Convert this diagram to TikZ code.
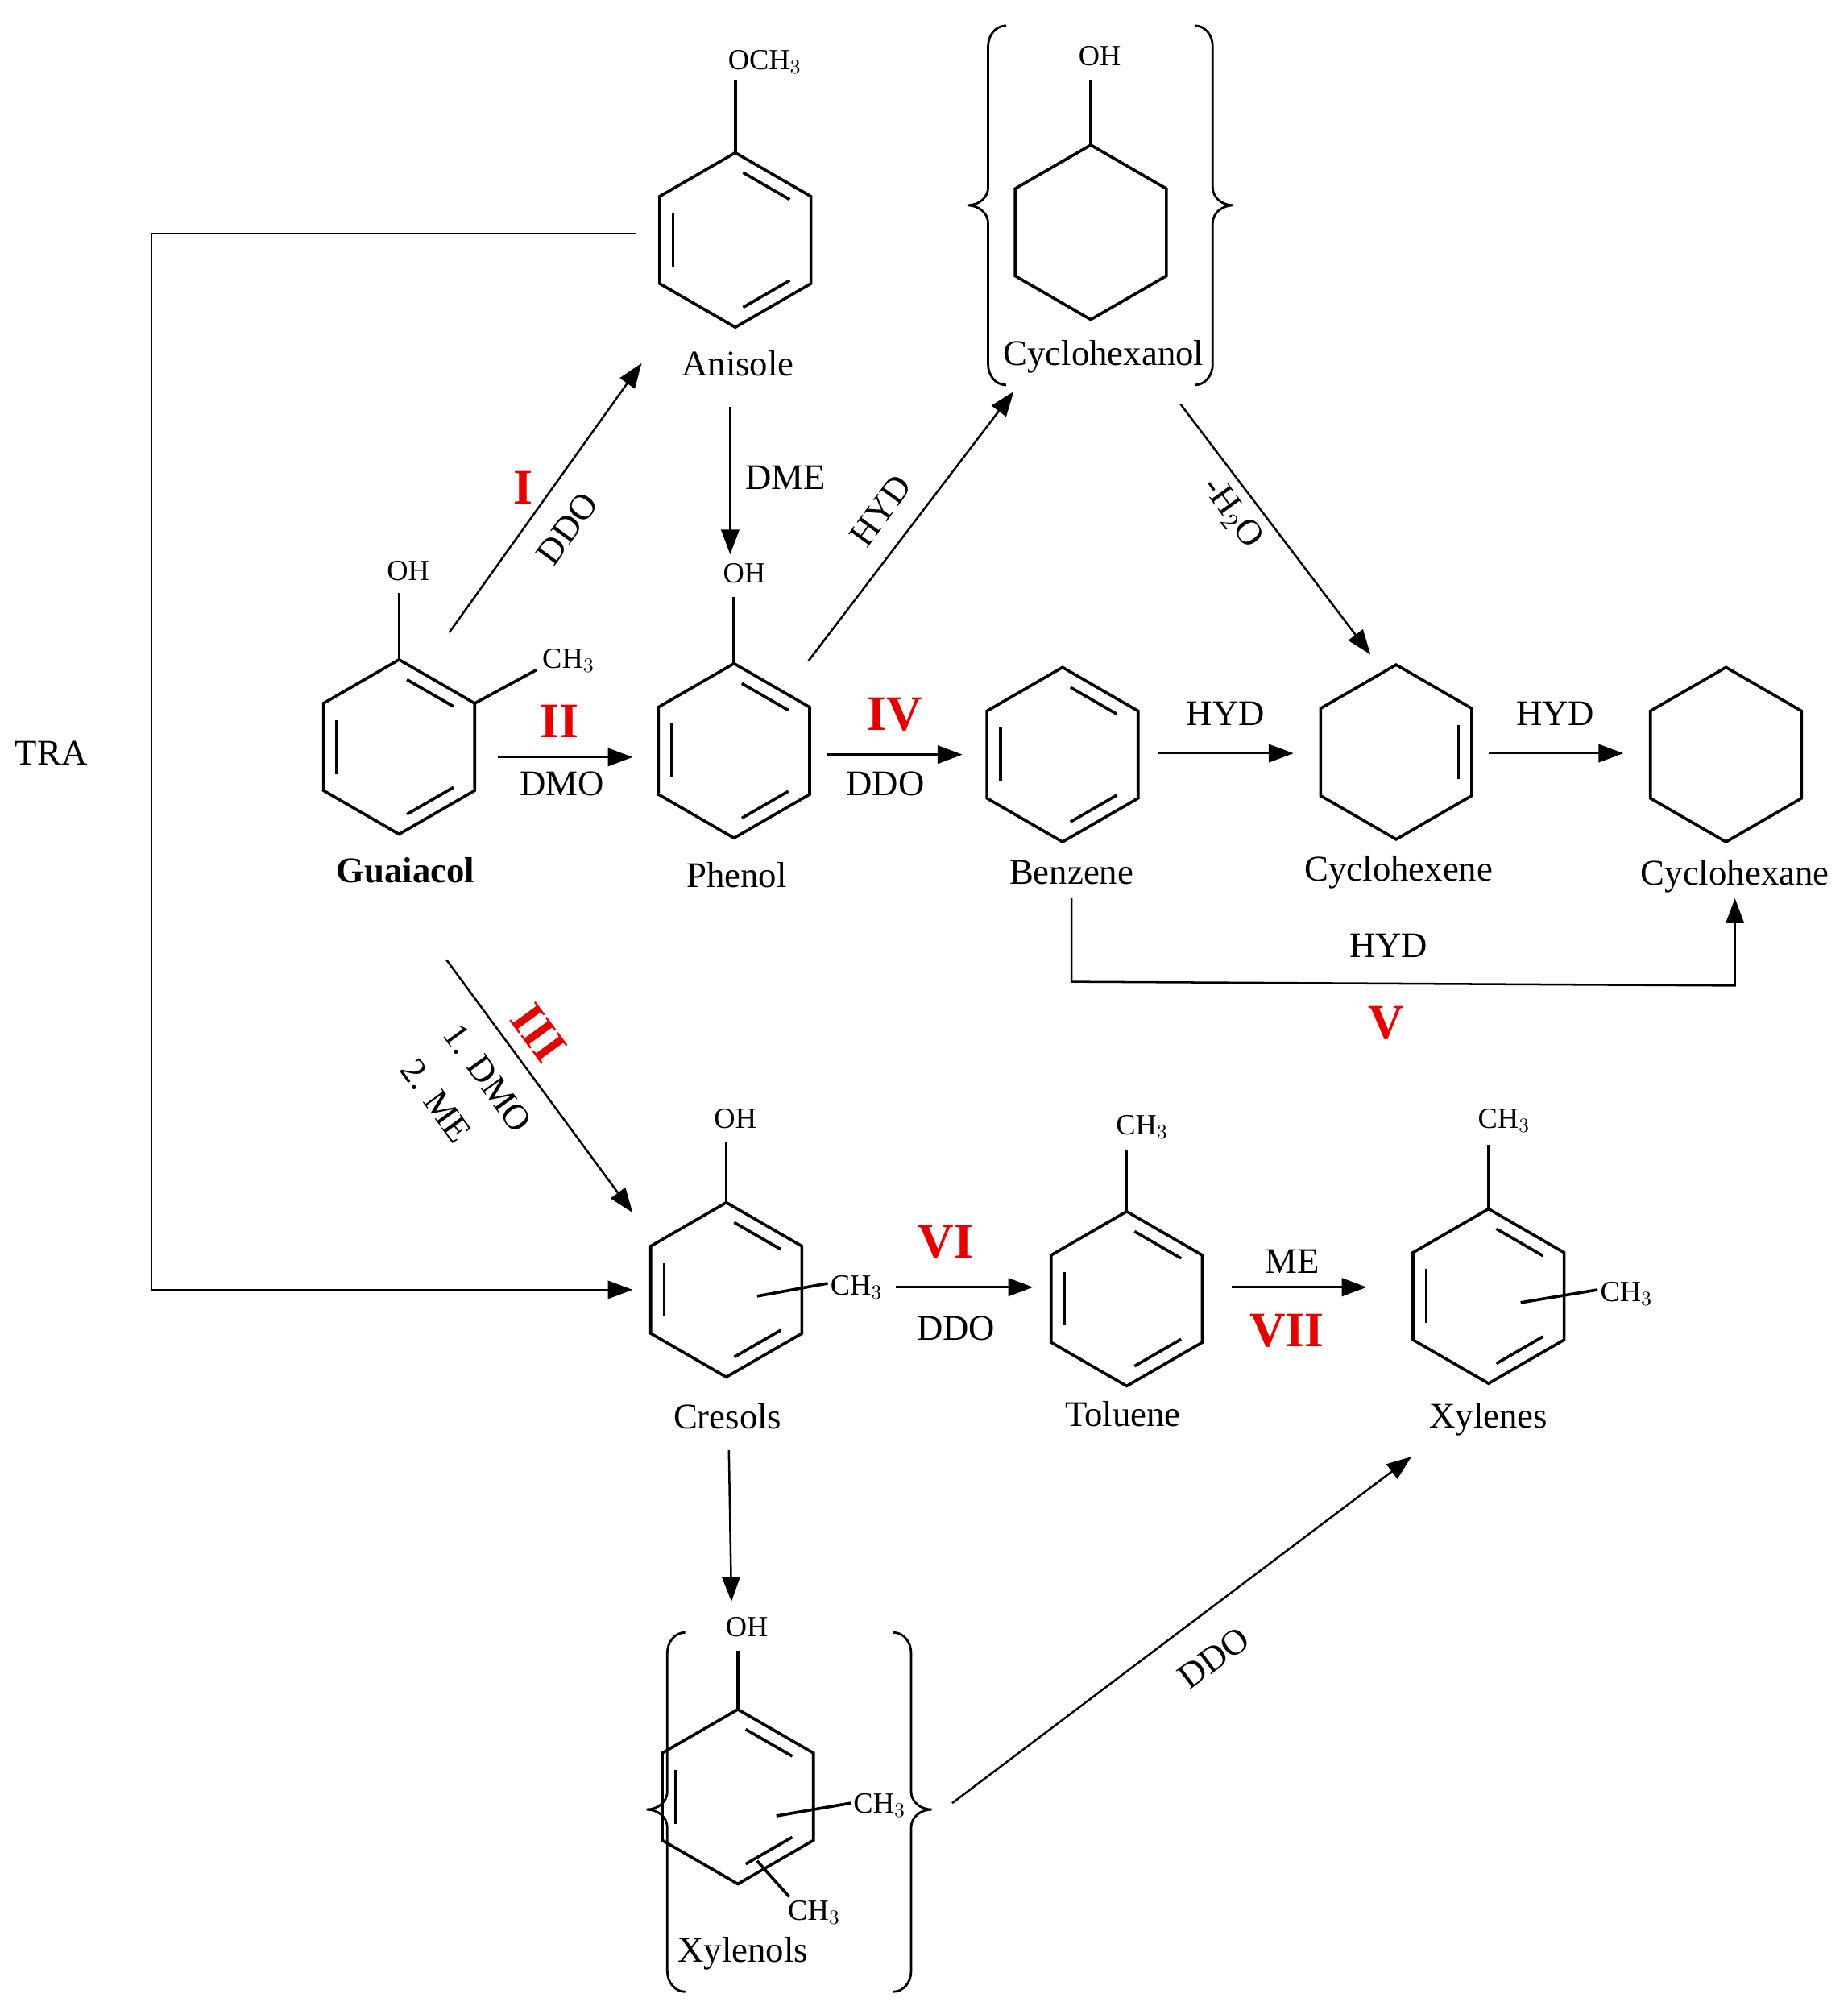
\documentclass[tikz,border=0pt]{standalone}
\usepackage{fontspec}
\setmainfont{Liberation Serif}
\usetikzlibrary{arrows.meta,calc}
\tikzset{x=0.02cm,y=-0.02cm,
 bond/.style={line width=1.3pt},
 arr/.style={line width=0.9pt,-{Triangle[length=11pt,width=8pt]}},
 lbl/.style={font=\fontsize{16}{18}\selectfont},
 sm/.style={font=\fontsize{13}{15}\selectfont,inner sep=1pt},
 red/.style={font=\fontsize{22}{24}\selectfont\bfseries,text=red!90!black},
 brace/.style={line width=1pt}}
\newcommand\hexring[2]{\draw[bond,shift={(#1,#2)}] (30:68)--(90:68)--(150:68)--(210:68)--(270:68)--(330:68)--cycle;}
\newcommand\dbl[3]{\draw[bond,shorten <=4pt,shorten >=4pt] ($(#1,#2)+(#3:56)$)--($(#1,#2)+({#3+60}:56)$);}
\newcommand\arom[2]{\hexring{#1}{#2}\dbl{#1}{#2}{270}\dbl{#1}{#2}{30}\dbl{#1}{#2}{150}}
\newcommand\mylbrace[4]{\draw[brace] (#1+14,#2) to[out=180,in=90] (#1,#2+16) -- (#1,#4-14) to[out=-90,in=0] (#1-16,#4) to[out=0,in=90] (#1,#4+14) -- (#1,#3-16) to[out=-90,in=180] (#1+14,#3);}
\newcommand\myrbrace[4]{\draw[brace] (#1-14,#2) to[out=0,in=90] (#1,#2+16) -- (#1,#4-14) to[out=-90,in=180] (#1+16,#4) to[out=180,in=90] (#1,#4+14) -- (#1,#3-16) to[out=-90,in=0] (#1-14,#3);}
\begin{document}
\begin{tikzpicture}
\useasboundingbox (0,0) rectangle (1440,1560);
% rings
\arom{573}{187}\draw[bond] (573,119)--(573,62); \node[sm] (anO) at (596,48) {OCH$_3$};
\hexring{850}{181}\draw[bond] (850,113)--(850,62); \node[sm] (chO) at (857,44) {OH};
\mylbrace{770}{20}{300}{160}\myrbrace{945}{20}{300}{160}
\arom{311}{582}\draw[bond] (311,514)--(311,462); \node[sm] (gO) at (318,445) {OH};
\draw[bond] (370,548)--(418,522); \node[sm] (gM) at (443,515) {CH$_3$};
\arom{572}{585}\draw[bond] (572,517)--(572,465); \node[sm] (pO) at (580,447) {OH};
\arom{828}{588}
\hexring{1088}{586}\dbl{1088}{586}{330}
\hexring{1345}{588}
\arom{566}{1005}\draw[bond] (566,937)--(566,890); \node[sm] (cO) at (573,872) {OH};
\draw[bond] (590,1010)--(645,1000); \node[sm,anchor=west] (cM) at (645,1003) {CH$_3$};
\arom{878}{1012}\draw[bond] (878,944)--(878,896); \node[sm] (tM) at (890,878) {CH$_3$};
\arom{1160}{1010}\draw[bond] (1160,942)--(1160,892); \node[sm] (xM1) at (1172,873) {CH$_3$};
\draw[bond] (1185,1015)--(1245,1005); \node[sm,anchor=west] (xM2) at (1245,1008) {CH$_3$};
\arom{575}{1400}\draw[bond] (575,1332)--(575,1286); \node[sm] (xoO) at (582,1268) {OH};
\draw[bond] (605,1415)--(663,1405); \node[sm,anchor=west] (xoM1) at (663,1407) {CH$_3$};
\draw[bond] (590,1450)--(615,1478); \node[sm,anchor=west] (xoM2) at (612,1490) {CH$_3$};
\mylbrace{520}{1272}{1552}{1410}\myrbrace{710}{1272}{1552}{1410}
% names
\node[lbl] (anisole) at (575,283) {Anisole};
\node[lbl] (cyclohexanol) at (860,278) {Cyclohexanol};
\node[lbl,font=\fontsize{16}{18}\selectfont\bfseries] (guaiacol) at (316,678) {Guaiacol};
\node[lbl] (phenol) at (574,682) {Phenol};
\node[lbl] (benzene) at (835,680) {Benzene};
\node[lbl] (cyclohexene) at (1090,680) {Cyclohexene};
\node[lbl] (cyclohexane) at (1352,683) {Cyclohexane};
\node[lbl] (cresols) at (567,1104) {Cresols};
\node[lbl] (toluene) at (875,1102) {Toluene};
\node[lbl] (xylenes) at (1160,1106) {Xylenes};
\node[lbl] (xylenols) at (579,1522) {Xylenols};
% arrows
\draw[arr] (350,493)--(500,283);
\node[red] at (408,380) {I}; \node[lbl,rotate=54] at (442,412) {DDO};
\draw[arr] (569,317)--(569,432); \node[lbl] at (612,372) {DME};
\draw[arr] (630,515)--(790,305); \node[lbl,rotate=54] at (686,398) {HYD};
\draw[arr] (920,315)--(1068,510); \node[lbl,rotate=-54] at (960,400) {-H$_2$O};
\draw[arr] (388,590)--(493,590); \node[red] at (436,562) {II}; \node[lbl] at (438,611) {DMO};
\draw[arr] (645,588)--(750,588); \node[red] at (697,557) {IV}; \node[lbl] at (690,611) {DDO};
\draw[arr] (903,587)--(1008,587); \node[lbl] at (955,556) {HYD};
\draw[arr] (1160,587)--(1265,587); \node[lbl] at (1212,556) {HYD};
\draw[arr] (835,700)--(835,765)--(1352,768)--(1352,700);
\node[lbl] at (1082,737) {HYD}; \node[red] at (1080,797) {V};
\draw[arr] (348,748)--(493,945);
\node[red,rotate=-54] at (420,805) {III};
\node[lbl,rotate=-54] at (380,840) {1. DMO};
\node[lbl,rotate=-54] at (340,858) {2. ME};
\draw[arr] (495,182)--(118,182)--(118,1005)--(493,1005);
\node[lbl] at (40,587) {TRA};
\draw[arr] (698,1003)--(805,1003); \node[red] at (737,968) {VI}; \node[lbl] at (745,1035) {DDO};
\draw[arr] (960,1003)--(1065,1003); \node[lbl] at (1007,983) {ME}; \node[red] at (1003,1037) {VII};
\draw[arr] (568,1130)--(570,1248);
\draw[arr] (742,1405)--(1100,1135); \node[lbl,rotate=37] at (946,1292) {DDO};
\end{tikzpicture}
\end{document}
